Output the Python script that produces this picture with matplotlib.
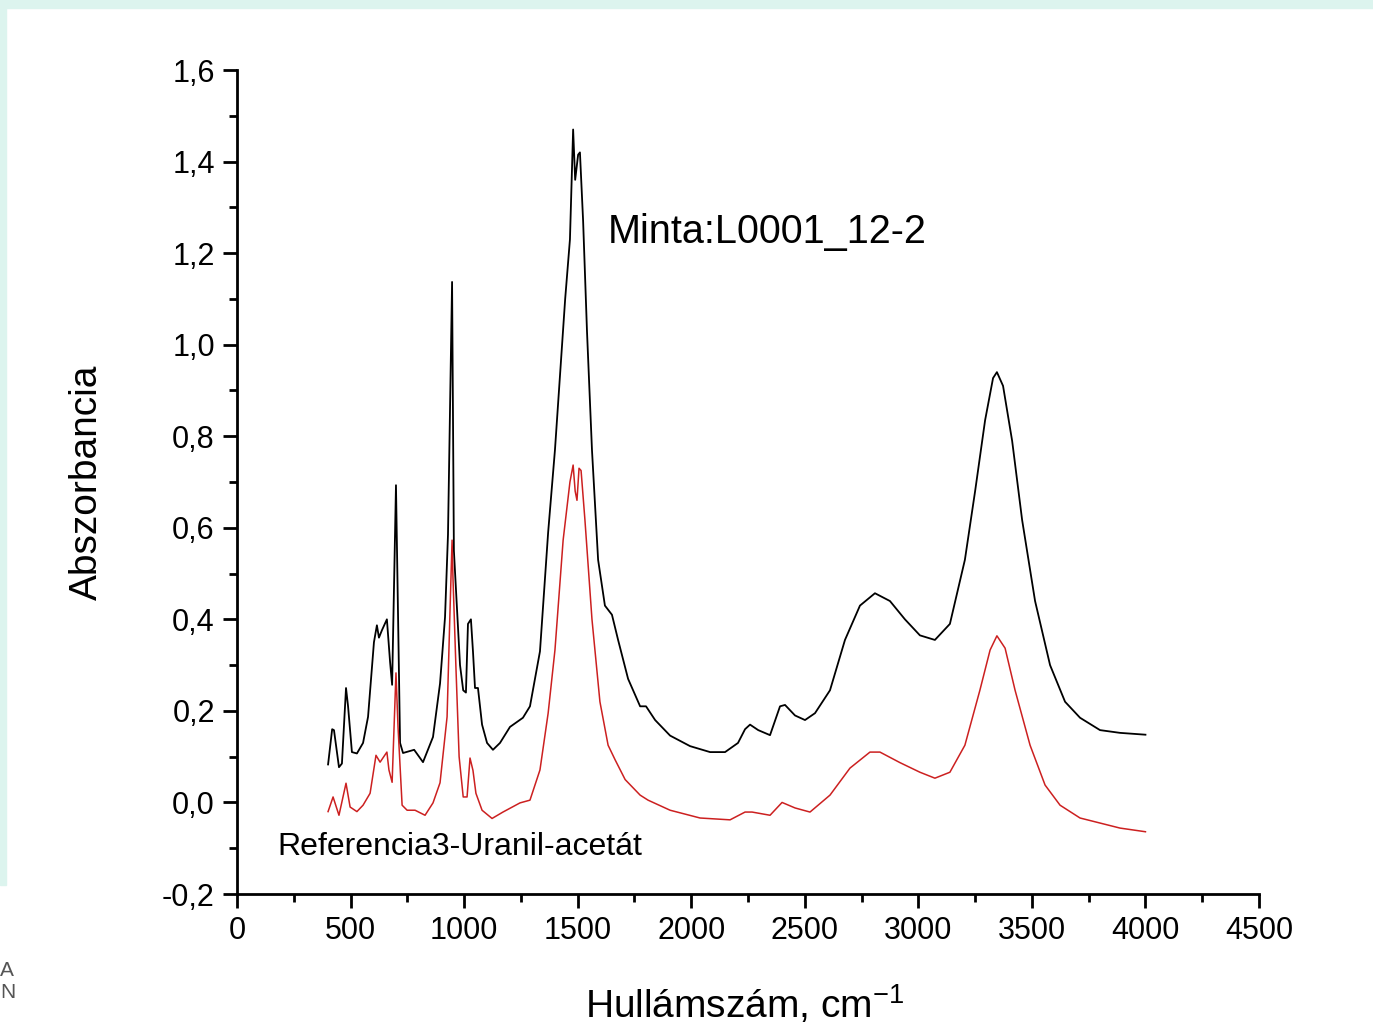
import numpy as np
import matplotlib.pyplot as plt
from matplotlib.patches import Rectangle
from matplotlib.ticker import MultipleLocator, FuncFormatter

plt.rcParams['font.family'] = ['Liberation Sans', 'DejaVu Sans']
plt.rcParams['mathtext.fontset'] = 'custom'
plt.rcParams['mathtext.rm'] = 'Liberation Sans'
plt.rcParams['mathtext.it'] = 'Liberation Sans'

# minta (black) spectrum
minta_x = [401, 419, 427, 449, 462, 480, 489, 506, 528, 555, 577, 603, 616, 625, 638, 660, 674, 683,
           700, 718, 731, 780, 819, 863, 894, 916, 929, 947, 955, 969, 982, 996, 1008, 1017, 1030,
           1039, 1048, 1061, 1079, 1101, 1127, 1158, 1202, 1259, 1290, 1334, 1370, 1400, 1445, 1466,
           1480, 1489, 1502, 1510, 1524, 1541, 1563, 1590, 1620, 1651, 1678, 1722, 1775, 1801, 1841,
           1907, 1995, 2083, 2149, 2206, 2237, 2259, 2295, 2347, 2391, 2413, 2457, 2501, 2545, 2611,
           2677, 2743, 2809, 2875, 2941, 3007, 3073, 3139, 3205, 3250, 3294, 3329, 3346, 3373, 3413,
           3457, 3514, 3580, 3646, 3712, 3800, 3888, 4000]
minta_y = [0.083, 0.16, 0.158, 0.077, 0.085, 0.25, 0.21, 0.11, 0.107, 0.13, 0.187, 0.35, 0.387, 0.36,
           0.376, 0.40, 0.307, 0.257, 0.693, 0.13, 0.108, 0.115, 0.088, 0.143, 0.26, 0.405, 0.585,
           1.137, 0.55, 0.42, 0.30, 0.245, 0.24, 0.39, 0.40, 0.33, 0.25, 0.25, 0.17, 0.13, 0.115,
           0.13, 0.165, 0.185, 0.21, 0.33, 0.59, 0.77, 1.10, 1.23, 1.47, 1.36, 1.415, 1.42, 1.27,
           1.03, 0.77, 0.53, 0.43, 0.41, 0.355, 0.27, 0.21, 0.21, 0.18, 0.146, 0.123, 0.11, 0.11,
           0.13, 0.16, 0.17, 0.158, 0.147, 0.21, 0.213, 0.19, 0.18, 0.195, 0.245, 0.355, 0.43,
           0.457, 0.44, 0.40, 0.365, 0.355, 0.39, 0.53, 0.68, 0.835, 0.927, 0.94, 0.91, 0.79, 0.617,
           0.44, 0.30, 0.22, 0.185, 0.158, 0.152, 0.148]

# referencia (red) spectrum
ref_x = [401, 423, 449, 480, 498, 528, 555, 586, 612, 630, 660, 669, 683, 700, 709, 727, 749, 784,
         828, 863, 894, 925, 938, 947, 951, 964, 978, 996, 1013, 1026, 1039, 1052, 1079, 1123, 1171,
         1246, 1290, 1334, 1370, 1400, 1436, 1466, 1480, 1489, 1497, 1506, 1515, 1532, 1563, 1598,
         1634, 1665, 1709, 1775, 1810, 1907, 2039, 2171, 2237, 2268, 2347, 2400, 2457, 2523, 2611,
         2699, 2787, 2831, 2919, 3007, 3073, 3139, 3205, 3271, 3316, 3346, 3382, 3426, 3492, 3558,
         3624, 3712, 3800, 3888, 4000]
ref_y = [-0.02, 0.012, -0.028, 0.042, -0.01, -0.02, -0.006, 0.02, 0.103, 0.088, 0.11, 0.071, 0.044,
         0.283, 0.165, -0.006, -0.017, -0.017, -0.028, -0.001, 0.043, 0.187, 0.42, 0.573, 0.49,
         0.295, 0.10, 0.012, 0.012, 0.097, 0.07, 0.02, -0.017, -0.035, -0.021, -0.001, 0.005,
         0.071, 0.195, 0.333, 0.573, 0.70, 0.737, 0.68, 0.66, 0.73, 0.725, 0.617, 0.40, 0.22,
         0.125, 0.093, 0.05, 0.016, 0.005, -0.017, -0.034, -0.038, -0.021, -0.021, -0.028, 0.0,
         -0.012, -0.021, 0.016, 0.075, 0.11, 0.11, 0.087, 0.066, 0.053, 0.066, 0.125, 0.245,
         0.333, 0.364, 0.337, 0.245, 0.125, 0.038, -0.006, -0.034, -0.045, -0.056, -0.064]

fig = plt.figure(figsize=(13.73, 10.26), dpi=100)
fig.patches.append(Rectangle((0, 1 - 8 / 1026), 1, 8 / 1026, transform=fig.transFigure,
                             color='#dcf4ee', zorder=0))
fig.patches.append(Rectangle((0, 141 / 1026), 6 / 1373, 885 / 1026, transform=fig.transFigure,
                             color='#dcf4ee', zorder=0))
# slide letters peeking in at the left edge
fig.text(0.0, 1 - 970 / 1026, "A", fontsize=15, color='#555555', va='center')
fig.text(0.0, 1 - 993 / 1026, "N", fontsize=15, color='#555555', va='center')

ax = fig.add_axes([237 / 1373, 132 / 1026, 1022 / 1373, 824 / 1026])
ax.patch.set_alpha(0)
ax.plot(minta_x, minta_y, color='black', lw=1.3)
ax.plot(ref_x, ref_y, color='#cc2020', lw=1.1)

ax.set_xlim(0, 4500)
ax.set_ylim(-0.2, 1.6)
for s in ['top', 'right']:
    ax.spines[s].set_visible(False)
for s in ['left', 'bottom']:
    ax.spines[s].set_linewidth(2)
ax.xaxis.set_major_locator(MultipleLocator(500))
ax.xaxis.set_minor_locator(MultipleLocator(250))
ax.yaxis.set_major_locator(MultipleLocator(0.2))
ax.yaxis.set_minor_locator(MultipleLocator(0.1))
ax.yaxis.set_major_formatter(FuncFormatter(lambda v, p: f"{v:.1f}".replace('.', ',').replace('-0,0', '0,0')))
ax.tick_params(which='major', direction='out', length=10, width=2, labelsize=22, pad=6)
ax.tick_params(which='minor', direction='out', length=6, width=2)

ax.set_ylabel("Abszorbancia", fontsize=28)
ax.yaxis.set_label_coords(-0.129, 0.5)
ax.set_xlabel("Hullámszám, cm$^{-1}$", fontsize=28)
ax.xaxis.set_label_coords(0.497, -0.108)

ax.text(1634, 1.246, "Minta:L0001_12-2", fontsize=28.5, va='center', ha='left')
ax.text(176, -0.097, "Referencia3-Uranil-acetát", fontsize=23, va='center', ha='left')

fig.savefig("out.png", dpi=100)
